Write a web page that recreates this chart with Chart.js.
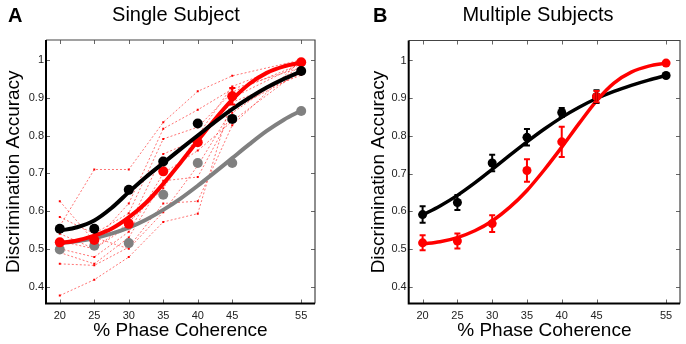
<!DOCTYPE html>
<html>
<head>
<meta charset="utf-8">
<script src="https://cdn.jsdelivr.net/npm/chart.js@4.4.1/dist/chart.umd.min.js"></script>
<style>
body { margin: 0; background: #fff; width: 686px; height: 344px; overflow: hidden; position: relative; font-family: "Liberation Sans", Arial, sans-serif; }
.pan { position: absolute; top: 0; width: 343px; height: 344px; }
.lbl { position: absolute; font-size: 20px; line-height: 20px; color: #000; z-index: 2; }
</style>
</head>
<body>
<div class="lbl" style="left:8px;top:5px;font-weight:bold">A</div>
<div class="lbl" style="left:76px;top:4px;width:200px;text-align:center">Single Subject</div>
<div class="lbl" style="left:373px;top:5px;font-weight:bold">B</div>
<div class="lbl" style="left:438px;top:4px;width:200px;text-align:center">Multiple Subjects</div>
<div class="pan" style="left:0"><canvas id="chartA" width="343" height="344"></canvas></div>
<div class="pan" style="left:343px"><canvas id="chartB" width="343" height="344"></canvas></div>
<script>
// x values (% phase coherence) and tick labels
const coherence = [20, 25, 30, 35, 40, 45, 55]
const fitX = [20, 22.5, 25, 27.5, 30, 32.5, 35, 37.5, 40, 42.5, 45, 47.5, 50, 52.5, 55]
const yTicks = [0.4, 0.5, 0.6, 0.7, 0.8, 0.9, 1]

// A - single subject
const singleBlack = [0.553, 0.553, 0.656, 0.731, 0.832, 0.844, 0.971]
const singleRed = [0.517, 0.523, 0.566, 0.705, 0.782, 0.904, 0.994]
const singleRedErr = [0, 0, 0, 0, 0, 0.022, 0]
const singleGrey = [0.498, 0.508, 0.515, 0.643, 0.727, 0.727, 0.865]
const fitSingleBlack = [0.548, 0.557, 0.575, 0.608, 0.650, 0.690, 0.727, 0.764, 0.800, 0.836, 0.870, 0.900, 0.927, 0.950, 0.970]
const fitSingleRed = [0.515, 0.522, 0.535, 0.553, 0.583, 0.622, 0.672, 0.728, 0.786, 0.843, 0.895, 0.937, 0.966, 0.983, 0.993]
const fitSingleGrey = [0.515, 0.520, 0.528, 0.540, 0.556, 0.577, 0.603, 0.633, 0.667, 0.703, 0.740, 0.777, 0.812, 0.842, 0.866]
// individual runs (red dashed)
const subjects = [
    [0.560, 0.710, 0.710, 0.835, 0.917, 0.958, 1.000],
    [0.626, 0.520, 0.620, 0.818, 0.868, 0.923, 0.980],
    [0.584, 0.540, 0.594, 0.791, 0.822, 0.915, 0.990],
    [0.520, 0.500, 0.560, 0.751, 0.790, 0.888, 0.960],
    [0.500, 0.478, 0.545, 0.700, 0.760, 0.838, 0.975],
    [0.460, 0.456, 0.504, 0.620, 0.626, 0.827, 1.000],
    [0.376, 0.418, 0.478, 0.571, 0.593, 0.900, 0.990],
    [0.510, 0.530, 0.500, 0.597, 0.720, 0.870, 0.965],
    [0.540, 0.500, 0.570, 0.660, 0.800, 0.930, 1.000],
    [0.490, 0.460, 0.530, 0.680, 0.690, 0.860, 0.985]
]

// B - multiple subjects
const multiBlack = [0.591, 0.623, 0.728, 0.796, 0.862, 0.904, 0.960]
const multiBlackErr = [0.022, 0.020, 0.022, 0.022, 0.012, 0.017, 0]
const multiRed = [0.516, 0.521, 0.567, 0.708, 0.784, 0.904, 0.993]
const multiRedErr = [0.020, 0.020, 0.022, 0.030, 0.040, 0.015, 0]
const fitMultiBlack = [0.590, 0.614, 0.642, 0.675, 0.711, 0.748, 0.784, 0.818, 0.849, 0.876, 0.899, 0.918, 0.934, 0.948, 0.960]
const fitMultiRed = [0.513, 0.519, 0.530, 0.548, 0.574, 0.610, 0.655, 0.710, 0.770, 0.833, 0.893, 0.940, 0.969, 0.985, 0.993]

const fam = '"Liberation Sans", Arial, sans-serif'

function pts(xs, ys) {
    return xs.map((x, i) => ({ x: x, y: ys[i] }))
}

function curve(ys, color, w, order) {
    return { data: pts(fitX, ys), borderColor: color, borderWidth: w, pointRadius: 0,
        cubicInterpolationMode: 'monotone', order: order }
}

function dots(ys, color, r, order, err) {
    return { data: pts(coherence, ys), showLine: false, pointRadius: r, pointBackgroundColor: color,
        pointBorderColor: color, pointBorderWidth: 0, order: order, err: err, errColor: color }
}

// box, inward ticks and error bars
const frame = {
    id: 'frame',
    afterDatasetsDraw(chart) {
        const ctx = chart.ctx, a = chart.chartArea, xs = chart.scales.x, ys = chart.scales.y
        ctx.save()
        chart.data.datasets.forEach(ds => {
            if (!ds.err) return
            ctx.strokeStyle = ds.errColor; ctx.lineWidth = 2
            ds.data.forEach((p, i) => {
                const e = ds.err[i]
                if (!e) return
                const px = xs.getPixelForValue(p.x)
                const y1 = ys.getPixelForValue(p.y - e), y2 = ys.getPixelForValue(p.y + e)
                ctx.beginPath()
                ctx.moveTo(px, y1); ctx.lineTo(px, y2)
                ctx.moveTo(px - 3, y1); ctx.lineTo(px + 3, y1)
                ctx.moveTo(px - 3, y2); ctx.lineTo(px + 3, y2)
                ctx.stroke()
            })
        })
        ctx.strokeStyle = '#666'; ctx.lineWidth = 1
        ctx.beginPath()
        coherence.forEach(v => {
            const px = Math.round(xs.getPixelForValue(v)) + 0.5
            ctx.moveTo(px, a.bottom); ctx.lineTo(px, a.bottom - 4)
            ctx.moveTo(px, a.top); ctx.lineTo(px, a.top + 4)
        })
        yTicks.forEach(v => {
            const py = Math.round(ys.getPixelForValue(v)) + 0.5
            ctx.moveTo(a.left, py); ctx.lineTo(a.left + 4, py)
            ctx.moveTo(a.right, py); ctx.lineTo(a.right - 4, py)
        })
        ctx.stroke()
        ctx.strokeStyle = '#444'; ctx.lineWidth = 1.2
        ctx.beginPath()
        ctx.moveTo(a.left, a.top); ctx.lineTo(a.right, a.top); ctx.lineTo(a.right, a.bottom)
        ctx.stroke()
        ctx.strokeStyle = '#000'; ctx.lineWidth = 2
        ctx.beginPath()
        ctx.moveTo(a.left, a.top); ctx.lineTo(a.left, a.bottom); ctx.lineTo(a.right, a.bottom)
        ctx.stroke()
        ctx.restore()
    }
}

function makeOptions(padLeft, yWidth, padRight, padTop) {
    return {
        responsive: false,
        animation: false,
        layout: { padding: { left: padLeft, right: padRight, top: padTop, bottom: 0 } },
        plugins: { legend: { display: false }, tooltip: { enabled: false } },
        scales: {
            x: {
                type: 'linear', min: 18, max: 57,
                afterBuildTicks(s) { s.ticks = coherence.map(v => ({ value: v })) },
                afterFit(s) { s.height = 40.5 },
                grid: { display: false, drawTicks: false },
                border: { display: false },
                ticks: { padding: 6, color: '#222', font: { size: 11, family: fam }, autoSkip: false, maxRotation: 0 },
                title: { display: true, text: '% Phase Coherence', color: '#000', font: { size: 19, family: fam },
                    padding: { top: 0, bottom: 1.6 } }
            },
            y: {
                type: 'linear', min: 0.355, max: 1.053,
                afterBuildTicks(s) { s.ticks = yTicks.map(v => ({ value: v })) },
                afterFit(s) { s.width = yWidth },
                grid: { display: false, drawTicks: false },
                border: { display: false },
                ticks: { padding: 2, color: '#222', font: { size: 11, family: fam },
                    callback: v => String(+v.toFixed(1)) },
                title: { display: true, text: 'Discrimination Accuracy', color: '#000', font: { size: 19, family: fam },
                    padding: { top: 2.6, bottom: 0 } }
            }
        }
    }
}

// panel A
let dsA = subjects.map(s => ({
    data: pts(coherence, s), borderColor: 'rgba(255,0,0,0.55)', borderWidth: 1, borderDash: [2, 2],
    pointStyle: 'rect', pointRadius: 1.4, pointBackgroundColor: '#f00', pointBorderWidth: 0, order: 9
}))
dsA.push(curve(fitSingleGrey, '#808080', 4, 6))
dsA.push(dots(singleGrey, '#808080', 5, 5))
dsA.push(curve(fitSingleRed, '#ff0000', 4, 4))
dsA.push(dots(singleRed, '#ff0000', 5, 3, singleRedErr))
dsA.push(curve(fitSingleBlack, '#000000', 4, 2))
dsA.push(dots(singleBlack, '#000000', 5, 1))

new Chart(document.getElementById('chartA'), {
    type: 'line',
    data: { datasets: dsA },
    options: makeOptions(0, 46, 28, 40),
    plugins: [frame]
})

// panel B
new Chart(document.getElementById('chartB'), {
    type: 'line',
    data: { datasets: [
        curve(fitMultiBlack, '#000000', 3.5, 4),
        dots(multiBlack, '#000000', 4.5, 3, multiBlackErr),
        curve(fitMultiRed, '#ff0000', 3.5, 2),
        dots(multiRed, '#ff0000', 4.5, 1, multiRedErr)
    ] },
    options: makeOptions(22, 43.7, 6, 40.5),
    plugins: [frame]
})
</script>
</body>
</html>
